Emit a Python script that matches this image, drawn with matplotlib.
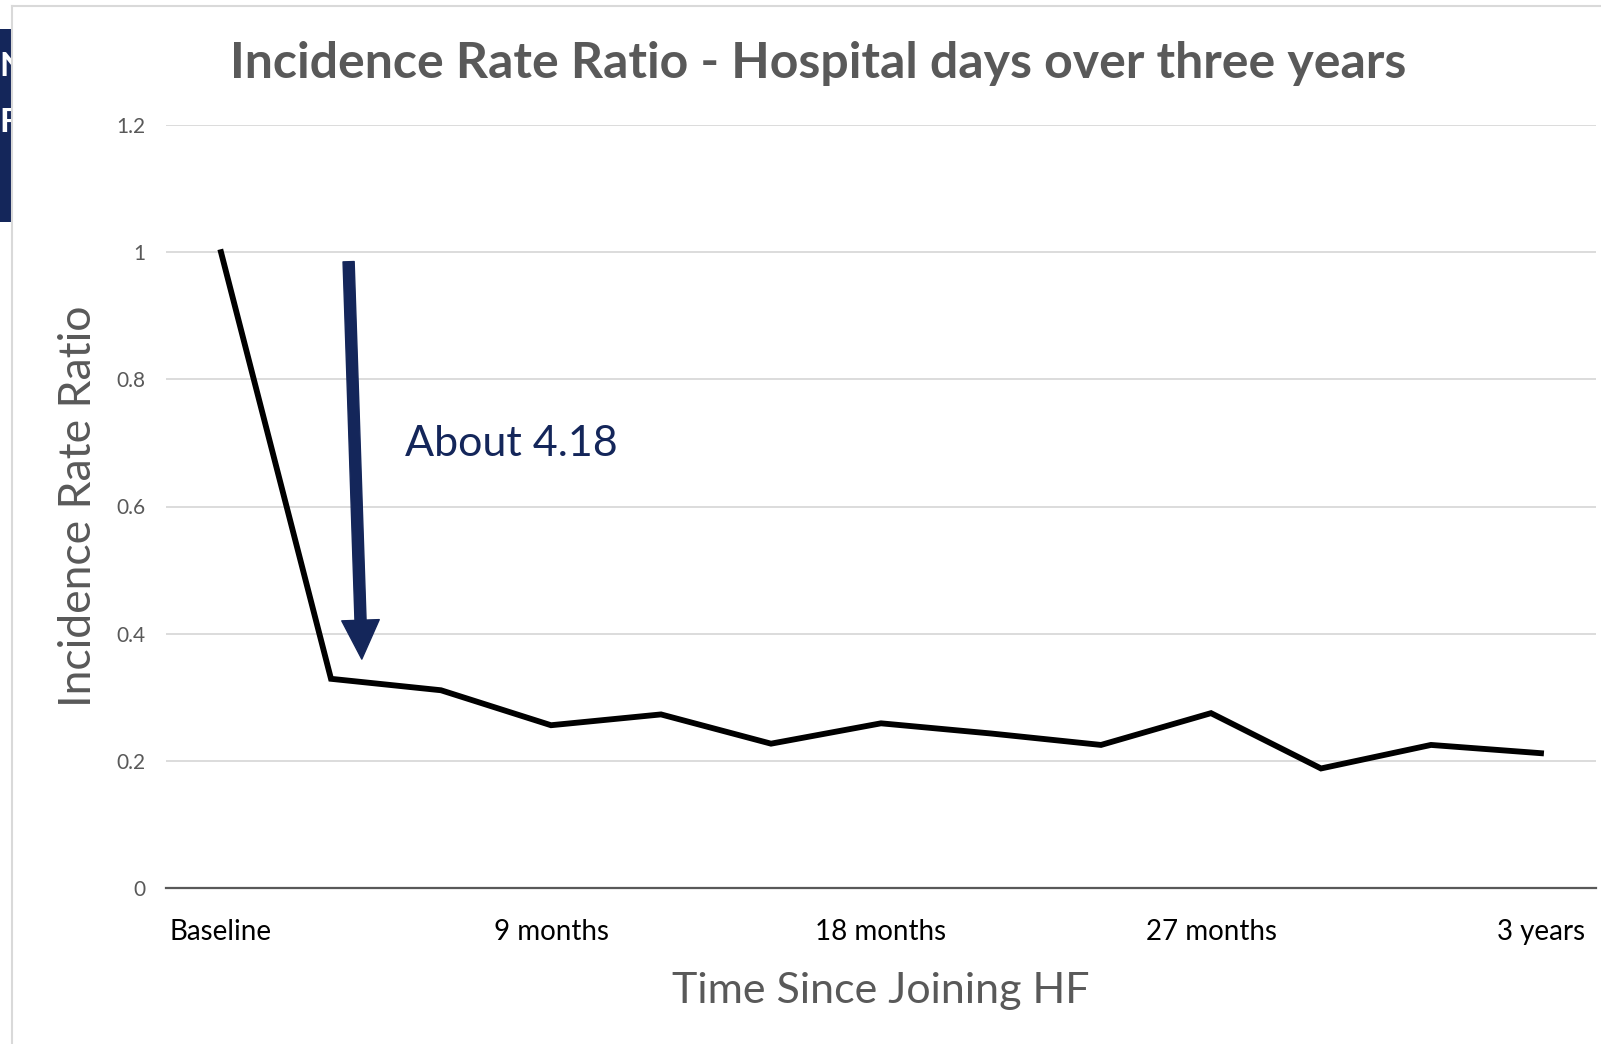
import numpy as np
import matplotlib.pyplot as plt
from matplotlib.patches import Rectangle
from matplotlib.lines import Line2D

# Dati
periods = ["Baseline", "3 months", "6 months", "9 months", "12 months", "15 months",
           "18 months", "21 months", "24 months", "27 months", "30 months", "33 months",
           "3 years"]
irr = [1.0, 0.329, 0.311, 0.256, 0.273, 0.227, 0.259, 0.243, 0.225, 0.275, 0.188,
       0.225, 0.212]
shown_ticks = [0, 3, 6, 9, 12]
y_ticks = [0, 0.2, 0.4, 0.6, 0.8, 1.0, 1.2]
y_tick_labels = ["0", "0.2", "0.4", "0.6", "0.8", "1", "1.2"]

W, H = 1601, 1044
NAVY = "#14265A"
GREY = "#595959"

plt.rcParams['font.family'] = ['Lato', 'DejaVu Sans']

fig = plt.figure(figsize=(W / 100, H / 100), dpi=100)
fig.patch.set_facecolor("white")


def px(x, y):
    """Converte pixel (dall'alto a sinistra) in coordinate figura."""
    return x / W, 1 - y / H


# cornice del grafico
fig.add_artist(Line2D([12 / W, 12 / W], [0, 1 - 6 / H], color="#d9d9d9", lw=1.5))
fig.add_artist(Line2D([12 / W, 1], [1 - 6 / H, 1 - 6 / H], color="#d9d9d9", lw=1.5))

# box blu a sinistra (pezzo di slide)
box = Rectangle(px(0, 222), 11 / W, (222 - 29) / H, transform=fig.transFigure,
                facecolor=NAVY, edgecolor="none")
fig.add_artist(box)
for letter, yy in [("N", 66), ("F", 123)]:
    t = fig.text(*px(-1, yy), letter, color="white", fontsize=24, fontweight="bold",
                 ha="left", va="center")
    t.set_clip_path(box)

left, right = 166, 1596
top, bottom = 125, 888
ax = fig.add_axes([left / W, 1 - bottom / H, (right - left) / W, (bottom - top) / H])

x = np.arange(len(periods))
ax.plot(x, irr, color="black", lw=4.2, solid_joinstyle="miter", zorder=3)

ax.set_xlim(-0.5, len(periods) - 0.5)
ax.set_ylim(0, 1.2)
ax.set_yticks(y_ticks)
ax.set_yticklabels(y_tick_labels)
ax.set_xticks(shown_ticks)
ax.set_xticklabels([periods[i] for i in shown_ticks])

ax.grid(axis="y", color="#d9d9d9", lw=1.3)
ax.set_axisbelow(True)
for s in ["top", "right", "left"]:
    ax.spines[s].set_visible(False)
ax.spines["bottom"].set_color(GREY)
ax.spines["bottom"].set_linewidth(1.6)
ax.spines["bottom"].set_zorder(2)

ax.tick_params(axis="y", length=0, pad=15, labelsize=15, labelcolor=GREY)
ax.tick_params(axis="x", length=0, pad=22, labelsize=20, labelcolor="black")

ax.set_ylabel("Incidence Rate Ratio", fontsize=32, color=GREY, labelpad=12)
ax.set_xlabel("Time Since Joining HF", fontsize=31, color=GREY, labelpad=20)

fig.text(*px(818, 63), "Incidence Rate Ratio - Hospital days over three years",
         fontsize=36, fontweight="bold", color=GREY, ha="center", va="center")

# freccia e nota
ax.annotate("", xy=(1.28, 0.36), xytext=(1.16, 0.985),
            arrowprops=dict(arrowstyle="simple,head_length=1.4,head_width=1.35,tail_width=0.4",
                            color=NAVY, shrinkA=0, shrinkB=0, mutation_scale=20))
ax.text(1.67, 0.698, "About 4.18", fontsize=31, color=NAVY, ha="left", va="center")

fig.savefig("out.png", dpi=100)
